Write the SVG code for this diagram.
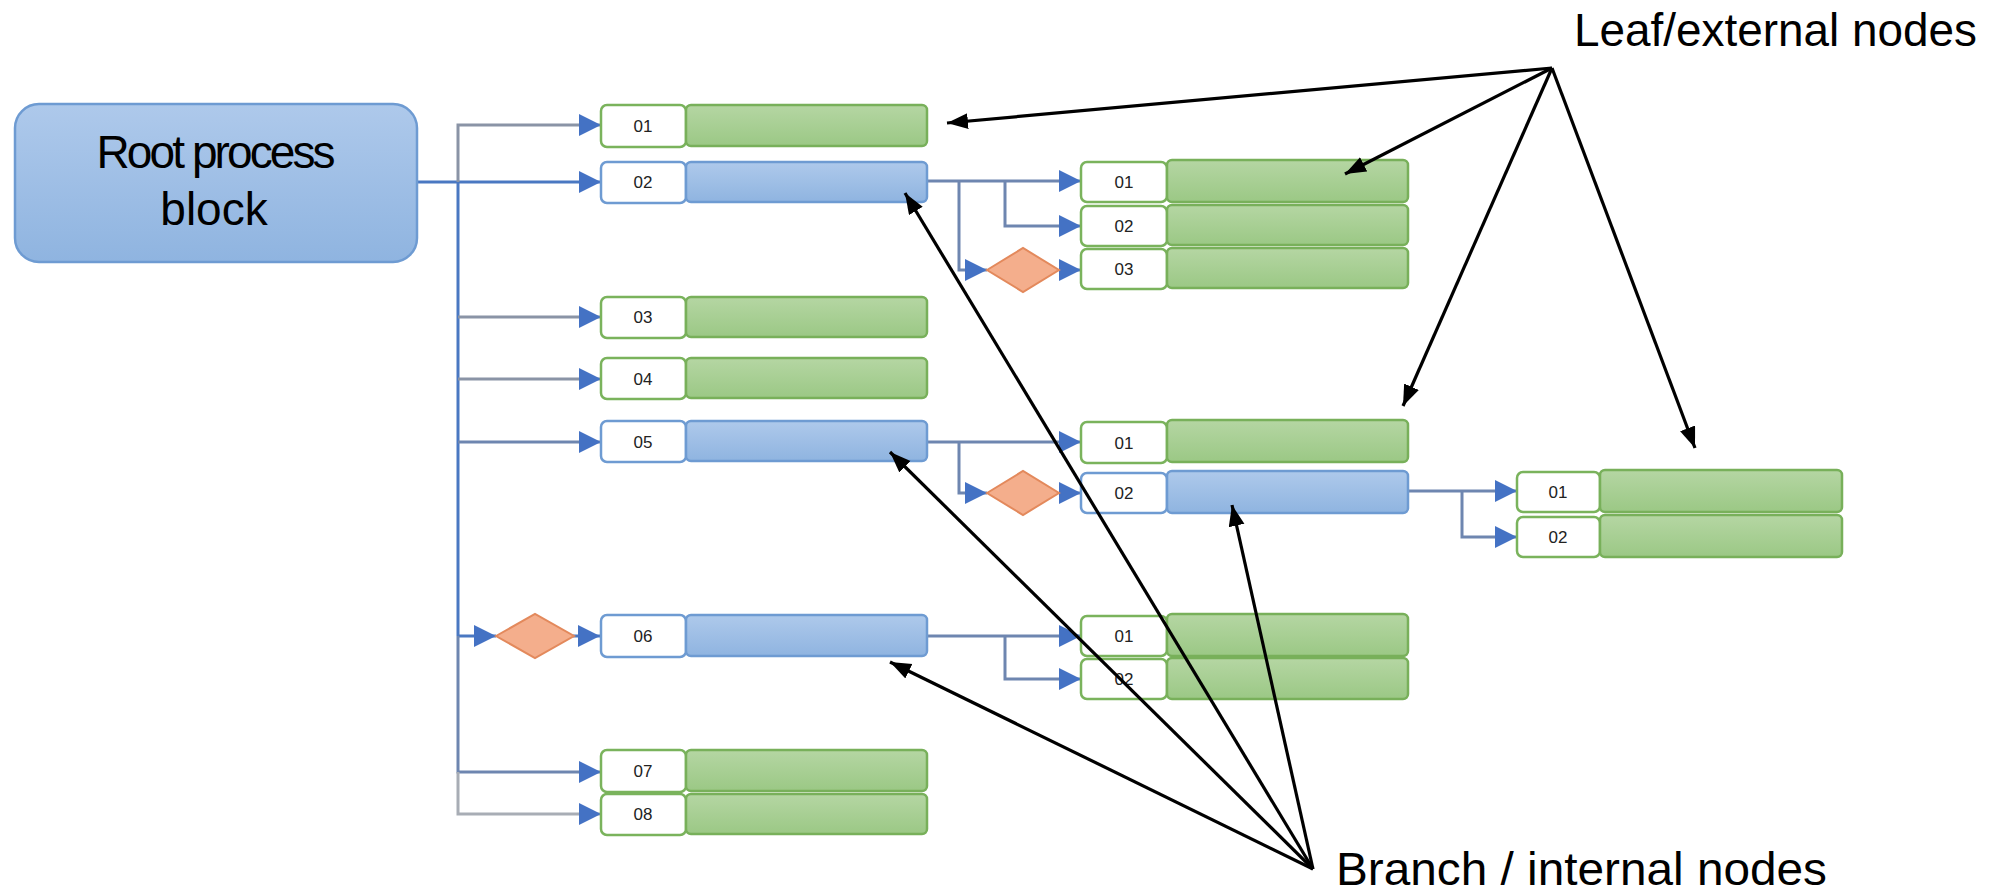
<svg xmlns="http://www.w3.org/2000/svg" width="2013" height="894" viewBox="0 0 2013 894">
<defs>
  <linearGradient id="gGreen" x1="0" y1="0" x2="0" y2="1">
    <stop offset="0" stop-color="#b5d6a3"/>
    <stop offset="1" stop-color="#9bc885"/>
  </linearGradient>
  <linearGradient id="gBlue" x1="0" y1="0" x2="0" y2="1">
    <stop offset="0" stop-color="#aec9eb"/>
    <stop offset="1" stop-color="#8fb4e0"/>
  </linearGradient>
  <marker id="ab" markerUnits="userSpaceOnUse" markerWidth="24" markerHeight="24" refX="22" refY="11" orient="auto">
    <path d="M0,0 L22,11 L0,22 Z" fill="#4472c4"/>
  </marker>
  <marker id="ak" markerUnits="userSpaceOnUse" markerWidth="24" markerHeight="18" refX="21" refY="8" orient="auto">
    <path d="M0,0 L21,8 L0,16 Z" fill="#000"/>
  </marker>
</defs>
<style>
  .lb{fill:#fff;stroke-width:2.5}
  .lg{stroke:#7ab35c}
  .lbb{stroke:#6e9bd2}
  .bg{fill:url(#gGreen);stroke:#78b05a;stroke-width:2.5}
  .bb{fill:url(#gBlue);stroke:#6e9bd2;stroke-width:2.5}
  .dia{fill:#f4ae8c;stroke:#e3895c;stroke-width:2}
  .t{font-family:"Liberation Sans",Arial,sans-serif;font-size:17px;fill:#222;text-anchor:middle}
  .big{font-family:"Liberation Sans",Arial,sans-serif;font-size:46px;fill:#000}
  .c{fill:none;stroke-width:3}
  .gray{stroke:#8a94a6}
  .blue{stroke:#4a78c2}
  .gb{stroke:#6e86b0}
  .lgray{stroke:#a8adb5}
  .ann{fill:none;stroke:#000;stroke-width:3.2;marker-end:url(#ak)}
</style>

<g id="connectors">
  <path class="c blue" d="M417,182 H601" stroke-width="4" marker-end="url(#ab)"/>
  <path class="c gray" d="M458,182 V125 H601" marker-end="url(#ab)"/>
  <path class="c blue" d="M458,182 V636" stroke-width="4"/>
  <path class="c gray" d="M458,317 H601" marker-end="url(#ab)"/>
  <path class="c gray" d="M458,379 H601" marker-end="url(#ab)"/>
  <path class="c gb" d="M458,442 H601" marker-end="url(#ab)"/>
  <path class="c blue" d="M458,636 H496" marker-end="url(#ab)"/>
  <path class="c blue" d="M573,636 H600" marker-end="url(#ab)"/>
  <path class="c gb" d="M458,636 V772 H601" marker-end="url(#ab)"/>
  <path class="c lgray" d="M458,772 V814 H601" marker-end="url(#ab)"/>

  <path class="c gb" d="M927,181 H1081" marker-end="url(#ab)"/>
  <path class="c gb" d="M1005,181 V226 H1081" marker-end="url(#ab)"/>
  <path class="c gb" d="M959,181 V270 H987" marker-end="url(#ab)"/>
  <path class="c gb" d="M1059,270 H1081" marker-end="url(#ab)"/>

  <path class="c gb" d="M927,442 H1081" marker-end="url(#ab)"/>
  <path class="c gb" d="M959,442 V493 H987" marker-end="url(#ab)"/>
  <path class="c gb" d="M1059,493 H1081" marker-end="url(#ab)"/>

  <path class="c gb" d="M927,636 H1081" marker-end="url(#ab)"/>
  <path class="c gb" d="M1005,636 V679 H1081" marker-end="url(#ab)"/>

  <path class="c gb" d="M1408,491 H1517" marker-end="url(#ab)"/>
  <path class="c gb" d="M1462,491 V537 H1517" marker-end="url(#ab)"/>
</g>

<g id="root">
  <rect x="15" y="104" width="402" height="158" rx="24" fill="url(#gBlue)" stroke="#6e9bd2" stroke-width="2.5"/>
  <text class="big" x="216" y="168" font-size="38" text-anchor="middle" fill="#111" textLength="239" lengthAdjust="spacing">Root process</text>
  <text class="big" x="214" y="225" font-size="38" text-anchor="middle" fill="#111">block</text>
</g>

<g id="n01"><rect class="lb lg" x="601" y="105" width="85" height="42" rx="6"/><rect class="bg" x="686" y="105" width="241" height="41" rx="5"/><text class="t" x="643" y="132">01</text></g>
<g id="n02"><rect class="lb lbb" x="601" y="162" width="85" height="41" rx="6"/><rect class="bb" x="686" y="162" width="241" height="40" rx="5"/><text class="t" x="643" y="188">02</text></g>
<g id="n03"><rect class="lb lg" x="601" y="297" width="85" height="41" rx="6"/><rect class="bg" x="686" y="297" width="241" height="40" rx="5"/><text class="t" x="643" y="323">03</text></g>
<g id="n04"><rect class="lb lg" x="601" y="358" width="85" height="41" rx="6"/><rect class="bg" x="686" y="358" width="241" height="40" rx="5"/><text class="t" x="643" y="385">04</text></g>
<g id="n05"><rect class="lb lbb" x="601" y="421" width="85" height="41" rx="6"/><rect class="bb" x="686" y="421" width="241" height="40" rx="5"/><text class="t" x="643" y="448">05</text></g>
<g id="d06"><polygon class="dia" points="496,636 535,614 574,636 535,658"/></g>
<g id="n06"><rect class="lb lbb" x="601" y="615" width="85" height="42" rx="6"/><rect class="bb" x="686" y="615" width="241" height="41" rx="5"/><text class="t" x="643" y="642">06</text></g>
<g id="n07"><rect class="lb lg" x="601" y="750" width="85" height="42" rx="6"/><rect class="bg" x="686" y="750" width="241" height="41" rx="5"/><text class="t" x="643" y="777">07</text></g>
<g id="n08"><rect class="lb lg" x="601" y="794" width="85" height="41" rx="6"/><rect class="bg" x="686" y="794" width="241" height="40" rx="5"/><text class="t" x="643" y="820">08</text></g>

<g id="n02-01"><rect class="lb lg" x="1081" y="162" width="86" height="40" rx="6"/><rect class="bg" x="1167" y="160" width="241" height="42" rx="5"/><text class="t" x="1124" y="188">01</text></g>
<g id="n02-02"><rect class="lb lg" x="1081" y="206" width="86" height="40" rx="6"/><rect class="bg" x="1167" y="205" width="241" height="40" rx="5"/><text class="t" x="1124" y="232">02</text></g>
<g id="d02-03"><polygon class="dia" points="987,270 1023,248 1059,270 1023,292"/></g>
<g id="n02-03"><rect class="lb lg" x="1081" y="249" width="86" height="40" rx="6"/><rect class="bg" x="1167" y="248" width="241" height="40" rx="5"/><text class="t" x="1124" y="275">03</text></g>

<g id="n05-01"><rect class="lb lg" x="1081" y="422" width="86" height="41" rx="6"/><rect class="bg" x="1167" y="420" width="241" height="42" rx="5"/><text class="t" x="1124" y="449">01</text></g>
<g id="d05-02"><polygon class="dia" points="987,493 1023,471 1059,493 1023,515"/></g>
<g id="n05-02"><rect class="lb lbb" x="1081" y="473" width="86" height="40" rx="6"/><rect class="bb" x="1167" y="471" width="241" height="42" rx="5"/><text class="t" x="1124" y="499">02</text></g>

<g id="n06-01"><rect class="lb lg" x="1081" y="616" width="86" height="40" rx="6"/><rect class="bg" x="1167" y="614" width="241" height="42" rx="5"/><text class="t" x="1124" y="642">01</text></g>
<g id="n06-02"><rect class="lb lg" x="1081" y="659" width="86" height="40" rx="6"/><rect class="bg" x="1167" y="658" width="241" height="41" rx="5"/><text class="t" x="1124" y="685">02</text></g>

<g id="n0502-01"><rect class="lb lg" x="1517" y="472" width="83" height="40" rx="6"/><rect class="bg" x="1600" y="470" width="242" height="42" rx="5"/><text class="t" x="1558" y="498">01</text></g>
<g id="n0502-02"><rect class="lb lg" x="1517" y="517" width="83" height="40" rx="6"/><rect class="bg" x="1600" y="515" width="242" height="42" rx="5"/><text class="t" x="1558" y="543">02</text></g>

<g id="annotations">
  <path class="ann" d="M1552,68 L947,123"/>
  <path class="ann" d="M1552,68 L1345,174"/>
  <path class="ann" d="M1552,68 L1403,406"/>
  <path class="ann" d="M1552,68 L1695,448"/>
  <path class="ann" d="M1313,869 L905,193"/>
  <path class="ann" d="M1313,869 L890,452"/>
  <path class="ann" d="M1313,869 L890,662"/>
  <path class="ann" d="M1313,869 L1232,505"/>
</g>

<g id="labels">
  <text class="big" x="1574" y="46" textLength="403" lengthAdjust="spacingAndGlyphs">Leaf/external nodes</text>
  <text class="big" x="1336" y="885" textLength="491" lengthAdjust="spacingAndGlyphs">Branch / internal nodes</text>
</g>
</svg>
